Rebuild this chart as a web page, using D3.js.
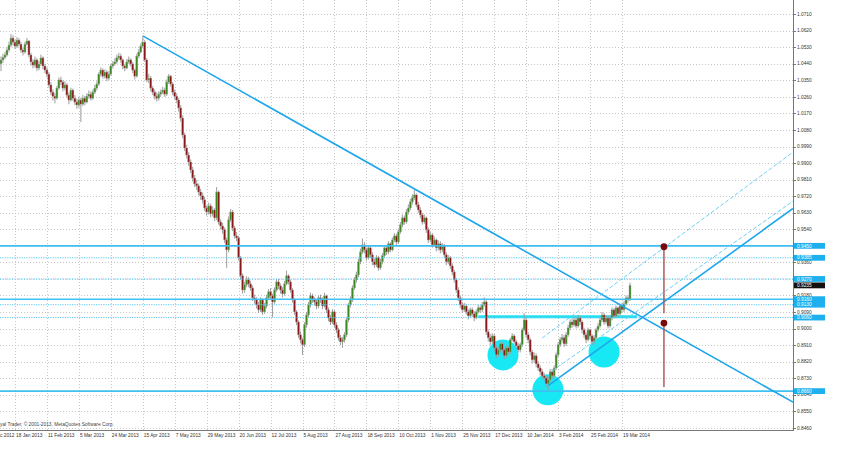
<!DOCTYPE html>
<html><head><meta charset="utf-8">
<script src="https://cdn.jsdelivr.net/npm/d3@7"></script>
<style>body{margin:0;background:#fff}svg{display:block}</style>
</head><body><svg id="c" width="852" height="452"></svg>
<script>
// ---- DATA (prices in pips, 1 pip = 0.0001) ----
const firstOpen = 10440;
const closes = [
10461,10475,10488,10515,10542,10580,10558,10536,10569,10547,
10515,10504,10547,10564,10488,10450,10433,10461,10417,10439,
10472,10428,10406,10384,10325,10286,10264,10253,10308,10352,
10341,10308,10325,10270,10243,10297,10253,10232,10216,10243,
10221,10253,10232,10264,10275,10253,10286,10308,10330,10384,
10406,10373,10395,10362,10384,10428,10439,10450,10472,10482,
10461,10428,10417,10450,10461,10439,10406,10373,10482,10504,
10536,10558,10461,10352,10362,10308,10286,10264,10253,10275,
10286,10297,10275,10341,10373,10330,10286,10264,10243,10200,
10145,10053,9982,9944,9906,9863,9819,9787,9776,9743,
9722,9700,9656,9634,9667,9624,9645,9602,9743,9580,
9558,9537,9482,9428,9591,9634,9547,9504,9493,9385,
9287,9210,9238,9265,9243,9221,9167,9156,9129,9102,
9156,9091,9123,9167,9200,9178,9145,9210,9254,9232,
9210,9189,9243,9287,9254,9210,9156,9091,9036,8966,
8939,8912,9020,9074,9129,9178,9156,9145,9123,9167,
9156,9123,9178,9102,9058,9036,9091,9020,8993,8950,
8928,8939,8966,9047,9129,9156,9221,9265,9292,9363,
9417,9455,9428,9385,9439,9401,9363,9347,9385,9330,
9363,9396,9439,9417,9461,9428,9482,9504,9471,9526,
9564,9602,9580,9634,9656,9689,9711,9727,9673,9645,
9618,9580,9602,9537,9482,9509,9455,9482,9439,9461,
9428,9450,9401,9363,9385,9341,9308,9265,9210,9167,
9129,9102,9123,9091,9069,9102,9080,9058,9091,9113,
9102,9129,9145,8982,8950,8928,8960,8895,8857,8884,
8917,8884,8852,8895,8873,8939,8960,8928,8906,8884,
8912,8993,9047,8966,8939,8873,8830,8852,8808,8786,
8765,8743,8732,8700,8721,8765,8743,8786,8857,8912,
8939,8950,8917,8966,9004,9036,9020,9047,9014,9058,
9036,8993,8966,8939,8993,8960,8928,8950,8993,9014,
9047,9074,9036,9058,9014,9058,9102,9069,9113,9080,
9123,9102,9134,9167,9156,9235];
const highs = [
10480,10495,10505,10530,10560,10602,10595,10570,10585,10580,
10560,10530,10560,10580,10570,10500,10465,10480,10470,10455,
10490,10480,10440,10420,10395,10340,10300,10280,10320,10365,
10370,10350,10345,10335,10285,10310,10305,10270,10250,10260,
10255,10270,10265,10280,10295,10290,10300,10325,10345,10395,
10420,10415,10410,10405,10400,10440,10455,10470,10490,10500,
10495,10470,10440,10465,10480,10470,10450,10415,10495,10520,
10550,10590,10570,10470,10385,10375,10320,10300,10285,10290,
10300,10315,10310,10355,10385,10380,10340,10300,10280,10255,
10215,10160,10065,10000,9960,9920,9880,9835,9810,9790,
9760,9740,9715,9670,9685,9680,9665,9655,9770,9750,
9595,9575,9550,9495,9610,9650,9645,9560,9525,9505,
9395,9300,9255,9285,9280,9260,9235,9185,9170,9145,
9170,9165,9140,9185,9215,9220,9190,9225,9270,9270,
9245,9225,9260,9315,9295,9265,9220,9165,9100,9045,
8985,8950,9035,9090,9145,9195,9190,9170,9160,9180,
9185,9170,9195,9185,9115,9075,9105,9100,9035,9005,
8965,8955,8980,9060,9140,9175,9235,9280,9310,9380,
9435,9490,9470,9440,9455,9450,9415,9380,9400,9395,
9380,9410,9455,9450,9475,9470,9495,9520,9515,9540,
9580,9620,9615,9650,9675,9705,9730,9754,9735,9690,
9660,9630,9620,9610,9550,9525,9520,9500,9490,9480,
9475,9465,9460,9415,9400,9395,9355,9320,9275,9225,
9180,9145,9140,9135,9105,9115,9115,9095,9105,9130,
9125,9145,9170,9155,8995,8970,8975,8970,8910,8900,
8930,8925,8895,8910,8905,8950,8975,8970,8940,8920,
8925,9005,9085,9060,8980,8950,8885,8870,8865,8825,
8800,8780,8760,8745,8740,8780,8780,8800,8870,8925,
8955,8970,8965,8980,9020,9050,9055,9065,9060,9075,
9070,9045,9005,8980,9005,9000,8970,8965,9005,9030,
9060,9090,9085,9075,9070,9070,9115,9110,9125,9120,
9135,9140,9150,9180,9180,9250];
const lows = [
10400,10445,10465,10480,10505,10530,10540,10520,10525,10535,
10500,10485,10495,10540,10475,10430,10415,10420,10400,10405,
10430,10410,10390,10365,10310,10270,10240,10225,10245,10300,
10325,10290,10295,10255,10220,10235,10240,10215,10195,10200,
10123,10210,10215,10225,10250,10240,10245,10275,10295,10320,
10370,10360,10360,10345,10350,10375,10415,10430,10440,10460,
10445,10410,10400,10410,10440,10425,10390,10355,10365,10470,
10495,10525,10450,10340,10335,10290,10270,10245,10235,10240,
10260,10275,10260,10265,10330,10315,10270,10245,10225,10180,
10125,10035,9965,9925,9885,9845,9800,9770,9755,9725,
9700,9680,9640,9615,9620,9605,9610,9585,9590,9565,
9540,9515,9465,9330,9415,9580,9530,9490,9475,9370,
9270,9190,9195,9225,9225,9205,9150,9135,9110,9085,
9090,9075,9080,9110,9155,9160,9062,9135,9200,9215,
9190,9170,9180,9235,9240,9195,9140,9075,9020,8950,
8920,8857,8900,9005,9060,9115,9140,9125,9105,9110,
9140,9105,9115,9085,9040,9020,9025,9005,8975,8935,
8910,8895,8925,8955,9035,9115,9145,9210,9250,9280,
9350,9405,9410,9370,9375,9385,9345,9330,9335,9315,
9320,9350,9385,9400,9405,9415,9420,9470,9455,9460,
9515,9550,9565,9570,9620,9645,9675,9700,9660,9630,
9600,9565,9570,9520,9465,9470,9440,9445,9420,9425,
9410,9415,9385,9345,9350,9325,9290,9250,9195,9150,
9110,9085,9090,9075,9050,9060,9065,9040,9050,9080,
9085,9090,9120,8965,8930,8910,8915,8875,8840,8845,
8870,8865,8835,8840,8855,8860,8930,8915,8890,8870,
8870,8900,8985,8950,8920,8855,8810,8815,8790,8770,
8745,8725,8715,8680,8665,8710,8725,8730,8775,8845,
8900,8925,8900,8905,8955,8990,9005,9010,9000,9005,
9020,8975,8950,8920,8930,8945,8910,8915,8940,8980,
9005,9035,9020,9025,9000,9005,9045,9055,9060,9065,
9070,9090,9090,9125,9140,9150];

const priceTicks = [1.0710,1.0620,1.0530,1.0440,1.0350,1.0260,1.0170,1.0080,0.9990,0.9900,0.9810,0.9720,0.9630,0.9540,0.9450,0.9360,0.9270,0.9180,0.9090,0.9000,0.8910,0.8820,0.8730,0.8640,0.8550,0.8460];
const dateLabels = ["c 2012","18 Jan 2013","11 Feb 2013","5 Mar 2013","24 Mar 2013","15 Apr 2013","7 May 2013","29 May 2013","20 Jun 2013","12 Jul 2013","5 Aug 2013","27 Aug 2013","18 Sep 2013","10 Oct 2013","1 Nov 2013","25 Nov 2013","17 Dec 2013","10 Jan 2014","3 Feb 2014","25 Feb 2014","19 Mar 2014"];
const solidLevels = [0.9450, 0.9160, 0.8660];
const dottedLevels = [0.9385, 0.9270, 0.9130, 0.9060];
const badgeLevels = [0.9450, 0.9385, 0.9270, 0.9160, 0.9130, 0.9060, 0.8660];
const currentPrice = 0.9235;
const neckline = [[239, 0.9064], [318.5, 0.9064]];
const trendDown = [[71, 1.0592], [207, 0.9760]];
const trendUp = [[274, 0.8690], [316, 0.9020]];
const channelUpper = [[271, 0.8949], [316, 0.9311]];
const channelLower = [[276, 0.8770], [316, 0.9076]];
const targets = [[332, 0.9445, 0.9084], [332, 0.9030, 0.8682]];
const circles = [[251.4, 0.8857], [273.9, 0.8667], [302, 0.8873]];

// ---- DRAW ----
const svg = d3.select('#c');
const plotR = 793, plotB = 430;
const FONT = '"Liberation Sans", Arial, sans-serif';
const y = d3.scaleLinear().domain([0.8460, 1.0710]).range([427.9, 14.15]);
const x = d3.scaleLinear().domain([0, 315]).range([1, 630]);
const barR = x.invert(plotR);

svg.append('rect').attr('width', 852).attr('height', 452).attr('fill', '#fff');
svg.append('defs').append('clipPath').attr('id', 'plot')
  .append('rect').attr('x', 0).attr('y', 0).attr('width', plotR).attr('height', plotB);

const g = svg.append('g').attr('clip-path', 'url(#plot)');

// grid
g.selectAll('.hg').data(priceTicks).join('line')
  .attr('x1', 0).attr('x2', plotR).attr('y1', d => Math.round(y(d)) + 0.5).attr('y2', d => Math.round(y(d)) + 0.5)
  .attr('stroke', '#c8c8c8').attr('stroke-width', 1).attr('stroke-dasharray', '1,2');
const dateX = (k) => x(-9 + 16 * k);
g.selectAll('.vg').data(dateLabels).join('line')
  .attr('x1', (d, k) => Math.round(dateX(k)) + 0.5).attr('x2', (d, k) => Math.round(dateX(k)) + 0.5)
  .attr('y1', 0).attr('y2', plotB)
  .attr('stroke', '#c8c8c8').attr('stroke-width', 1).attr('stroke-dasharray', '1,2');

// circles (background)
g.selectAll('.circ').data(circles).join('circle')
  .attr('cx', d => x(d[0])).attr('cy', d => y(d[1])).attr('r', 15.5)
  .attr('fill', '#18e8f4');

// neckline
g.append('line')
  .attr('x1', x(neckline[0][0])).attr('x2', x(neckline[1][0]))
  .attr('y1', y(neckline[0][1])).attr('y2', y(neckline[1][1]))
  .attr('stroke', '#22e2f0').attr('stroke-width', 3);

// candles
const bars = closes.map((c, i) => ({
  i, o: (i ? closes[i - 1] : firstOpen) / 1e4, c: c / 1e4, h: highs[i] / 1e4, l: lows[i] / 1e4
}));
const cg = g.append('g');
cg.selectAll('.wick').data(bars).join('line')
  .attr('x1', d => x(d.i)).attr('x2', d => x(d.i))
  .attr('y1', d => y(d.h)).attr('y2', d => y(d.l))
  .attr('stroke', '#9c9c9c').attr('stroke-width', 1);
cg.selectAll('.body').data(bars).join('rect')
  .attr('x', d => x(d.i) - 1).attr('width', 2)
  .attr('y', d => y(Math.max(d.o, d.c)))
  .attr('height', d => Math.max(0.8, Math.abs(y(d.o) - y(d.c))))
  .attr('fill', d => d.c >= d.o ? '#3c8722' : '#881818')
  .attr('stroke', '#a8a8a8').attr('stroke-width', 0.4);

// horizontal levels
g.selectAll('.sl').data(solidLevels).join('line')
  .attr('x1', 0).attr('x2', plotR).attr('y1', d => y(d)).attr('y2', d => y(d))
  .attr('stroke', '#40c0f2').attr('stroke-width', 1.6);
g.selectAll('.dl').data(dottedLevels).join('line')
  .attr('x1', 0).attr('x2', plotR).attr('y1', d => y(d)).attr('y2', d => y(d))
  .attr('stroke', '#58c8f2').attr('stroke-width', 1).attr('stroke-dasharray', '1.2,1.2');

// trend lines (rays to right edge)
function ray(pts) {
  const [[b0, p0], [b1, p1]] = pts;
  const s = (p1 - p0) / (b1 - b0);
  return [x(b0), y(p0), x(barR), y(p0 + s * (barR - b0))];
}
function drawRay(pts, color, w, dash) {
  const r = ray(pts);
  const l = g.append('line').attr('x1', r[0]).attr('y1', r[1]).attr('x2', r[2]).attr('y2', r[3])
    .attr('stroke', color).attr('stroke-width', w);
  if (dash) l.attr('stroke-dasharray', dash);
}
drawRay(trendDown, '#1ea6ec', 1.6);
drawRay(trendUp, '#1ea6ec', 1.6);
drawRay(channelUpper, '#6fcff4', 1, '4,2');
drawRay(channelLower, '#6fcff4', 1, '4,2');

// target markers
targets.forEach(t => {
  g.append('line').attr('x1', x(t[0])).attr('x2', x(t[0])).attr('y1', y(t[1])).attr('y2', y(t[2]))
    .attr('stroke', '#a85050').attr('stroke-width', 1.4);
  g.append('circle').attr('cx', x(t[0])).attr('cy', y(t[1])).attr('r', 3.4).attr('fill', '#7a0a0a');
});

// frame
svg.append('line').attr('x1', plotR + 0.5).attr('x2', plotR + 0.5).attr('y1', 0).attr('y2', plotB)
  .attr('stroke', '#777').attr('stroke-width', 1);
svg.append('line').attr('x1', 0).attr('x2', plotR + 1).attr('y1', plotB + 0.5).attr('y2', plotB + 0.5)
  .attr('stroke', '#777').attr('stroke-width', 1);

// right axis ticks and labels
const ax = svg.append('g');
ax.selectAll('.tk').data(priceTicks).join('line')
  .attr('x1', plotR).attr('x2', plotR + 3).attr('y1', d => Math.round(y(d)) + 0.5).attr('y2', d => Math.round(y(d)) + 0.5)
  .attr('stroke', '#777');
ax.selectAll('.tl').data(priceTicks).join('text')
  .attr('x', plotR + 4).attr('y', d => y(d)).attr('dy', '0.35em')
  .attr('font-family', FONT).attr('font-size', 4.8).attr('fill', '#333')
  .text(d => d.toFixed(4));

// badges
const bd = svg.append('g');
const allBadges = badgeLevels.map(v => ({v, c: '#1eb0ee'})).concat([{v: currentPrice, c: '#111'}]);
bd.selectAll('rect').data(allBadges).join('rect')
  .attr('x', plotR + 1).attr('y', d => y(d.v) - 2.9).attr('width', 31).attr('height', 5.8)
  .attr('fill', d => d.c);
bd.selectAll('text').data(allBadges).join('text')
  .attr('x', plotR + 4).attr('y', d => y(d.v)).attr('dy', '0.35em')
  .attr('font-family', FONT).attr('font-size', 4.8).attr('fill', '#fff')
  .text(d => d.v.toFixed(4));

// date labels (first one is only partly visible in the original: show its tail)
svg.selectAll('.dt').data(dateLabels).join('text')
  .attr('x', (d, k) => k === 0 ? 0 : dateX(k) + 1).attr('y', 437)
  .attr('font-family', FONT).attr('font-size', 4.8).attr('fill', '#333')
  .text(d => d);

// copyright
svg.append('text').attr('x', 0).attr('y', 426)
  .attr('font-family', FONT).attr('font-size', 4.8).attr('fill', '#444')
  .text('yal Trader, © 2001-2013, MetaQuotes Software Corp.');
</script></body></html>
